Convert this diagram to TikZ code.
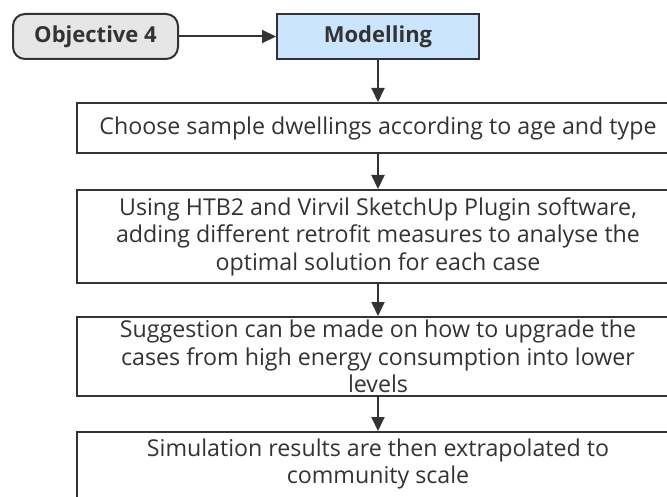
\documentclass[tikz,border=0pt]{standalone}
\usepackage{fontspec}
\setmainfont{Open Sans}
\usetikzlibrary{arrows.meta}
\definecolor{ln}{HTML}{333333}
\definecolor{gfill}{HTML}{E6E6E6}
\definecolor{bfill}{HTML}{CCE5FF}
\definecolor{txt}{HTML}{333333}
\tikzset{
  box/.style={draw=ln, line width=2pt, minimum width=602pt, align=center, text=txt,
    font=\fontsize{23.2}{27.5}\selectfont, inner sep=0pt},
  headbox/.style={draw=ln, line width=2pt, text=txt, font=\fontsize{22}{24}\selectfont\bfseries, inner sep=0pt},
  arr/.style={draw=ln, line width=2pt, -{Triangle[length=14pt,width=13pt]}}
}
\begin{document}
\begin{tikzpicture}[x=1pt,y=-1pt]
\useasboundingbox (0,0) rectangle (667,497);
\clip (0,0) rectangle (667,497);
\fill[white] (0,0) rectangle (667,497);
\node[headbox, fill=gfill, rounded corners=12pt, minimum width=165pt, minimum height=45pt] (obj) at (95.5,36.5) {Objective 4};
\node[headbox, fill=bfill, minimum width=202pt, minimum height=45pt] (mod) at (378,36.5) {Modelling};
\node[box, minimum height=50pt] (b1) at (378,128) {Choose sample dwellings according to age and type};
\node[box, minimum height=93pt] (b2) at (378,236.5) {Using HTB2 and Virvil SketchUp Plugin software,\\adding different retrofit measures to analyse the\\optimal solution for each case};
\node[box, minimum height=79pt] (b3) at (378,356.5) {Suggestion can be made on how to upgrade the\\cases from high energy consumption into lower\\levels};
\node[box, minimum height=80pt, anchor=north] (b4) at (378,431) {};
\node[text=txt, font=\fontsize{23.2}{27.5}\selectfont, align=center] (t4) at (378,464) {Simulation results are then extrapolated to\\community scale};
\draw[arr] (obj) -- (mod);
\draw[arr] (mod) -- (b1);
\draw[arr] (b1) -- (b2);
\draw[arr] (b2) -- (b3);
\draw[arr] (b3) -- (b4);
\end{tikzpicture}
\end{document}
